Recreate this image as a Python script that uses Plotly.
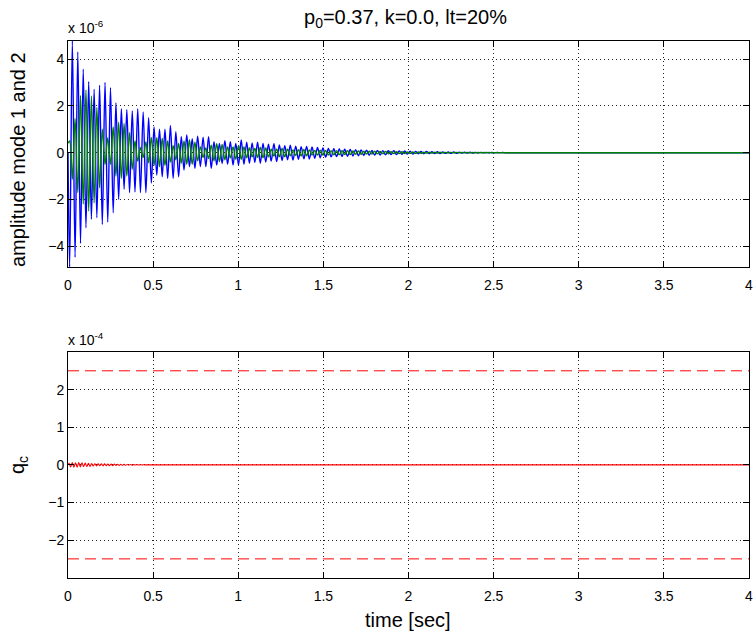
import plotly.graph_objects as go

# ---------------- data ----------------
# time axis
t_start = 0.0
t_end = 4.0
x_ticks = [0, 0.5, 1, 1.5, 2, 2.5, 3, 3.5, 4]

# top panel: successive extrema of mode 1 (blue) and mode 2 (green), units of 1e-6
ext_t0 = 0.0095      # time of first extremum [s]
ext_step = 0.016     # spacing of extrema (half period) [s]
blue_start = 0.0
blue_ext = [
    -4.89, 4.79, -4.47, 4.31, -3.88, 3.57, -3.21, 3.04, -2.85, 2.71,
    -2.78, 2.88, -3.07, 3.00, -2.97, 2.78, -2.57, 2.14, -2.00, 1.88,
    -1.57, 1.85, -1.71, 1.78, -1.68, 1.88, -1.71, 1.74, -1.71, 1.50,
    -1.30, 1.10, -0.96, 1.00, -1.03, 1.00, -1.10, 1.16, -1.10, 0.90,
    -1.03, 0.68, -0.74, 0.76, -0.60, 0.60, -0.67, 0.71, -0.60, 0.66,
    -0.60, 0.68, -0.67, 0.47, -0.53, 0.40, -0.46, 0.51, -0.50, 0.47,
    -0.53, 0.40, -0.53, 0.54, -0.50, 0.45, -0.45, 0.42, -0.42, 0.45,
    -0.45, 0.40, -0.40, 0.36, -0.36, 0.38, -0.38, 0.33, -0.33, 0.30,
    -0.30, 0.32, -0.32, 0.28, -0.28, 0.26, -0.26, 0.27, -0.27, 0.24,
    -0.24, 0.22, -0.22, 0.20, -0.19, 0.18, -0.18, 0.17, -0.17, 0.16,
    -0.16, 0.15, -0.15, 0.14, -0.14, 0.13, -0.13, 0.12, -0.12, 0.11,
    -0.11, 0.10, -0.10, 0.10, -0.10, 0.09, -0.09, 0.08, -0.08, 0.08,
    -0.08, 0.07, -0.07, 0.07, -0.06, 0.06, -0.06, 0.05, -0.05, 0.05,
    -0.05, 0.05, -0.04, 0.04, -0.04, 0.04, -0.04, 0.03, -0.03, 0.03,
    -0.03, 0.03, -0.03, 0.02, -0.02, 0.02, -0.02, 0.02, -0.02, 0.015,
    -0.015, 0.015, -0.01, 0.01, -0.01, 0.01, -0.005, 0.005, -0.005, 0.005,
    0.0,
]
green_start = 0.4
green_ext = [
    0.50, -1.14, 1.46, -1.71, 2.45, -2.20, 2.68, -2.50, 2.43, -2.14,
    1.93, -1.50, 1.00, -0.50, 0.64, -0.50, 1.10, -1.00, 1.30, -1.10,
    1.25, -1.00, 0.86, -0.71, 0.50, -0.36, 0.21, -0.20, 0.46, -0.43,
    0.65, -0.55, 0.65, -0.60, 0.62, -0.55, 0.50, -0.40, 0.30, -0.30,
    0.40, -0.45, 0.50, -0.50, 0.55, -0.50, 0.45, -0.35, 0.25, -0.20,
    0.20, -0.25, 0.32, -0.35, 0.38, -0.38, 0.35, -0.30, 0.25, -0.22,
    0.25, -0.28, 0.30, -0.28, 0.25, -0.22, 0.20, -0.18, 0.18, -0.20,
    0.22, -0.22, 0.20, -0.18, 0.15, -0.14, 0.15, -0.17, 0.18, -0.17,
    0.15, -0.13, 0.12, -0.12, 0.13, -0.14, 0.14, -0.13, 0.12, -0.10,
    0.10, -0.10, 0.11, -0.11, 0.10, -0.10, 0.09, -0.09, 0.09, -0.09,
    0.08, -0.08, 0.08, -0.08, 0.07, -0.07, 0.07, -0.07, 0.06, -0.06,
    0.06, -0.06, 0.06, -0.05, 0.05, -0.05, 0.05, -0.05, 0.04, -0.04,
    0.04, -0.04, 0.04, -0.04, 0.03, -0.03, 0.03, -0.03, 0.03, -0.03,
    0.02, -0.02, 0.02, -0.02, 0.02, -0.02, 0.02, -0.015, 0.015, -0.015,
    0.015, -0.01, 0.01, -0.01, 0.01, -0.01, 0.01, -0.008, 0.008, -0.008,
    0.006, -0.006, 0.005, -0.005, 0.005, -0.004, 0.004, -0.003, 0.003, -0.002,
    0.0,
]
amp_ticks = [-4, -2, 0, 2, 4]
amp_range = [-4.89, 4.79]

# bottom panel: q_c extrema (units of 1e-4) and limit lines
qc_t0 = 0.006
qc_step = 0.0095
qc_start = 0.0
qc_ext = [
    0.040, -0.055, 0.060, -0.060, 0.055, -0.060, 0.060, -0.055, 0.055, -0.050,
    0.045, -0.045, 0.040, -0.040, 0.035, -0.030, 0.030, -0.030, 0.025, -0.025,
    0.025, -0.025, 0.025, -0.020, 0.020, -0.020, 0.020, -0.020, 0.020, -0.015,
    0.015, -0.015, 0.012, -0.012, 0.012, -0.010, 0.010, -0.010, 0.008, -0.008,
    0.006, -0.005, 0.005, -0.004, 0.004, -0.003, 0.003, 0.0,
]
qc_limits = [2.5, -2.5]
qc_ticks = [-2, -1, 0, 1, 2]
qc_range = [-3, 3]

# ---------------- figure ----------------
W, H = 754, 639
px_x = lambda p: p / W
px_y = lambda p: (H - p) / H

x_dom = [px_x(68), px_x(749)]
top_dom = [px_y(267), px_y(40.7)]
bot_dom = [px_y(577.7), px_y(352)]


def series(t0, step, start, ext):
    xs = [t_start] + [t0 + step * i for i in range(len(ext))] + [t_end]
    ys = [start] + list(ext) + [0.0]
    return xs, ys


fig = go.Figure()
bx, by = series(ext_t0, ext_step, blue_start, blue_ext)
gx, gy = series(ext_t0, ext_step, green_start, green_ext)
qx, qy = series(qc_t0, qc_step, qc_start, qc_ext)

fig.add_trace(go.Scatter(x=bx, y=by, mode="lines", line=dict(color="#0000ff", width=1.4, shape="spline", smoothing=1.0),
                         xaxis="x", yaxis="y", showlegend=False))
fig.add_trace(go.Scatter(x=gx, y=gy, mode="lines", line=dict(color="#008000", width=1.4, shape="spline", smoothing=1.0),
                         xaxis="x", yaxis="y", showlegend=False))
for lim in qc_limits:
    fig.add_trace(go.Scatter(x=[t_start, t_end], y=[lim, lim], mode="lines",
                             line=dict(color="#ff0000", width=1, dash="11px,6px"),
                             xaxis="x2", yaxis="y2", showlegend=False))
fig.add_trace(go.Scatter(x=qx, y=qy, mode="lines", line=dict(color="#ff0000", width=1.1, shape="spline", smoothing=1.0),
                         xaxis="x2", yaxis="y2", showlegend=False))

font_family = "Liberation Sans, Arial, Helvetica, sans-serif"
tickfont = dict(family=font_family, size=14, color="black")

common = dict(showline=True, linecolor="black", linewidth=1, mirror="ticks",
              ticks="inside", ticklen=6, tickcolor="black", tickwidth=1,
              showgrid=True, gridcolor="#222222", gridwidth=1, griddash="1px,3px",
              zeroline=False, tickfont=tickfont)

fig.update_layout(
    width=W, height=H,
    margin=dict(l=0, r=0, t=0, b=0, autoexpand=False),
    paper_bgcolor="white", plot_bgcolor="white",
    xaxis=dict(domain=x_dom, range=[t_start, t_end], tickvals=x_ticks, anchor="y",
               ticklabelstandoff=5, **common),
    yaxis=dict(domain=top_dom, range=amp_range, tickvals=amp_ticks, anchor="x", **common),
    xaxis2=dict(domain=x_dom, range=[t_start, t_end], tickvals=x_ticks, anchor="y2",
                ticklabelstandoff=5, **common),
    yaxis2=dict(domain=bot_dom, range=qc_range, tickvals=qc_ticks, anchor="x2", **common),
)

ann_font = dict(family=font_family, size=20, color="black")
small_font = dict(family=font_family, size=14, color="black")
fig.add_annotation(text="p<sub>0</sub>=0.37, k=0.0, lt=20%", x=px_x(405), y=px_y(19),
                   xref="paper", yref="paper", xanchor="center", yanchor="middle",
                   showarrow=False, font=ann_font)
fig.add_annotation(text="amplitude mode 1 and 2", x=px_x(18), y=px_y(160), textangle=-90,
                   xref="paper", yref="paper", xanchor="center", yanchor="middle",
                   showarrow=False, font=ann_font)
fig.add_annotation(text="q<sub>c</sub>", x=px_x(18), y=px_y(465), textangle=-90,
                   xref="paper", yref="paper", xanchor="center", yanchor="middle",
                   showarrow=False, font=ann_font)
fig.add_annotation(text="time [sec]", x=px_x(408.5), y=px_y(620),
                   xref="paper", yref="paper", xanchor="center", yanchor="middle",
                   showarrow=False, font=ann_font)
fig.add_annotation(text="x 10<sup>-6</sup>", x=px_x(66), y=px_y(27),
                   xref="paper", yref="paper", xanchor="left", yanchor="middle",
                   showarrow=False, font=small_font)
fig.add_annotation(text="x 10<sup>-4</sup>", x=px_x(66), y=px_y(339),
                   xref="paper", yref="paper", xanchor="left", yanchor="middle",
                   showarrow=False, font=small_font)

fig.write_html("out.html", config={"displayModeBar": False},
               post_script="document.body.style.margin='0px';")
